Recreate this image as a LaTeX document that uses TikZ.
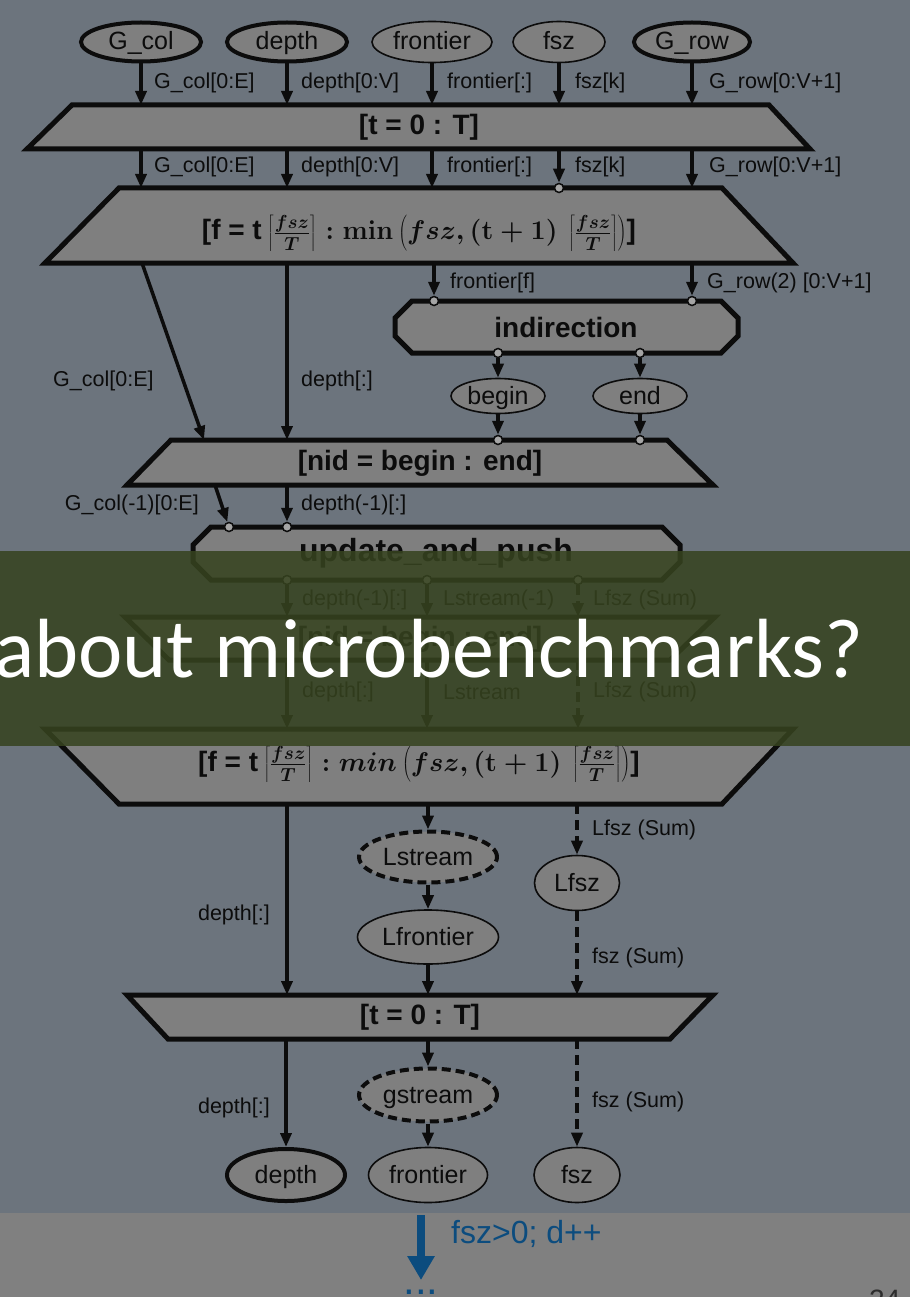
\RequirePackage{fix-cm}
\documentclass[tikz,border=0pt]{standalone}
\usepackage[no-math]{fontspec}
\setmainfont{Liberation Sans}
\newfontfamily\calib{Carlito}
\usetikzlibrary{arrows.meta,shapes.geometric}
\definecolor{bgc}{RGB}{108,116,125}
\definecolor{lowbg}{RGB}{128,128,128}
\definecolor{nfill}{RGB}{127,127,127}
\definecolor{pfill}{RGB}{165,165,165}
\definecolor{ink}{RGB}{12,12,12}
\definecolor{blu}{RGB}{12,76,126}
\definecolor{ban}{RGB}{54,67,31}
\definecolor{pgnum}{RGB}{45,45,45}
\newcommand{\strt}{\rule[-12pt]{0pt}{38pt}}
\newcommand{\ceilfrac}{\left\lceil\strt\frac{fsz}{T}\right\rceil}
\newcommand{\mth}[1]{{\fontsize{27}{32}\selectfont\boldmath$#1$}}
\newcommand{\formA}{\textbf{[f = t}\mth{\,\ceilfrac :\mathbf{min}\left(fsz,(\mathbf{t}+\mathbf{1})\,\ceilfrac\right)}\textbf{]}}
\newcommand{\formB}{\textbf{[f = t}\mth{\,\ceilfrac :min\left(fsz,(\mathbf{t}+\mathbf{1})\,\ceilfrac\right)}\textbf{]}}
\tikzset{
 lbl/.style={font=\fontsize{21.5}{24}\selectfont, text=ink, inner sep=0pt},
 ell/.style={ellipse, draw=ink, fill=nfill, line width=1.6pt, inner sep=0pt, text height=17pt, text depth=1pt, font=\fontsize{25}{28}\selectfont, text=ink},
 ellthick/.style={ell, line width=4pt},
 elldash/.style={ell, line width=4pt, dash pattern=on 9pt off 5pt},
 shp/.style={draw=ink, fill=nfill, line width=5pt, line join=miter},
 btxt/.style={font=\fontsize{28}{32}\selectfont\bfseries, text=ink, inner sep=0pt},
 ftxt/.style={font=\fontsize{28}{34}\selectfont, text=ink, inner sep=0pt},
 arr/.style={draw=ink, line width=3.5pt, -{Triangle[length=14pt,width=11pt]}},
 darr/.style={arr, dash pattern=on 10pt off 6pt},
 port/.style={circle, draw=ink, fill=pfill, line width=1.5pt, inner sep=0pt, minimum size=9pt},
}
\begin{document}
\begin{tikzpicture}[x=1pt,y=-1pt]
\useasboundingbox (0,0) rectangle (910,1297);
\clip (0,0) rectangle (910,1297);
\fill[bgc] (0,0) rectangle (910,1213);
\fill[lowbg] (0,1213) rectangle (910,1297);

% ---- top inputs
\node[ellthick, minimum width=120pt, minimum height=39pt] (Gcol) at (141,42) {G\_col};
\node[ellthick, minimum width=120pt, minimum height=39pt] (dep) at (287,42) {depth};
\node[ell, minimum width=120pt, minimum height=41pt] (fro) at (432,42) {frontier};
\node[ell, minimum width=92pt, minimum height=41pt] (fsz) at (559,42) {fsz};
\node[ellthick, minimum width=116pt, minimum height=39pt] (Grow) at (692,42) {G\_row};

% ---- T1
\draw[shp] (72,105) -- (769,105) -- (810,149) -- (27,149) -- cycle;
\node[btxt] (T1) at (419,127) {[t = 0 : T]};
\coordinate (T1n) at (419,105);
\coordinate (T1s) at (419,149);
\foreach \n in {Gcol,dep,fro,fsz,Grow} \draw[arr] (\n) -- (\n |- T1n);
\node[lbl, anchor=west] at (154,83) {G\_col[0:E]};
\node[lbl, anchor=west] at (301,83) {depth[0:V]};
\node[lbl, anchor=west] at (447,83) {frontier[:]};
\node[lbl, anchor=west] at (575,83) {fsz[k]};
\node[lbl, anchor=west] at (709,83) {G\_row[0:V+1]};

% ---- F1
\draw[shp] (119,188) -- (722,188) -- (793,263) -- (45,263) -- cycle;
\node[ftxt] (F1) at (419,233) {\formA};
\coordinate (F1n) at (419,188);
\coordinate (F1s) at (419,263);
\node[port] (pfsz) at (559,188) {};
\draw[arr] (Gcol |- T1s) -- (Gcol |- F1n);
\draw[arr] (dep |- T1s) -- (dep |- F1n);
\draw[arr] (fro |- T1s) -- (fro |- F1n);
\draw[arr] (fsz |- T1s) -- (pfsz.north);
\draw[arr] (Grow |- T1s) -- (Grow |- F1n);
\node[lbl, anchor=west] at (154,167) {G\_col[0:E]};
\node[lbl, anchor=west] at (301,167) {depth[0:V]};
\node[lbl, anchor=west] at (447,167) {frontier[:]};
\node[lbl, anchor=west] at (575,167) {fsz[k]};
\node[lbl, anchor=west] at (709,167) {G\_row[0:V+1]};

% ---- indirection
\draw[shp] (412,301) -- (721,301) -- (738,318) -- (738,336) -- (721,353) -- (412,353) -- (395,336) -- (395,318) -- cycle;
\node[btxt] (ind) at (566,327) {indirection};
\node[port] (pf) at (434,301) {};
\node[port] (pg) at (692,301) {};
\draw[arr] (pf |- F1s) -- (pf.north);
\draw[arr] (pg |- F1s) -- (pg.north);
\node[lbl, anchor=west] at (450,283) {frontier[f]};
\node[lbl, anchor=west] at (707,283) {G\_row(2) [0:V+1]};
\node[port] (pb) at (498,353) {};
\node[port] (pe) at (640,353) {};
\node[ell, minimum width=94pt, minimum height=35pt] (beg) at (498,396) {begin};
\node[ell, minimum width=94pt, minimum height=35pt] (endn) at (640,396) {end};
\draw[arr] (pb) -- (beg);
\draw[arr] (pe) -- (endn);

% ---- N1
\draw[shp] (171,440) -- (667,440) -- (713,485) -- (127,485) -- cycle;
\node[btxt] (N1) at (420,463) {[nid = begin : end]};
\coordinate (N1n) at (420,440);
\coordinate (N1s) at (420,485);
\node[port] (pnb) at (498,440) {};
\node[port] (pne) at (640,440) {};
\draw[arr] (beg) -- (pnb.north);
\draw[arr] (endn) -- (pne.north);
\coordinate (gcs) at (142,263);
\coordinate (gce) at (204,440);
\draw[arr] (gcs) -- (gce);
\draw[arr] (dep |- F1s) -- (dep |- N1n);
\node[lbl, anchor=west] at (53,381) {G\_col[0:E]};
\node[lbl, anchor=west] at (301,381) {depth[:]};

% ---- update_and_push
\draw[shp] (211,527) -- (662,527) -- (680,545) -- (680,562) -- (662,580) -- (211,580) -- (193,562) -- (193,545) -- cycle;
\node[btxt, font=\fontsize{32}{36}\selectfont\bfseries] (U) at (436,553) {update\_and\_push};
\node[port] (pgc) at (229,527) {};
\node[port] (pd) at (287,527) {};
\coordinate (gc2s) at (215,485);
\draw[arr] (gc2s) -- (pgc);
\draw[arr] (pd |- N1s) -- (pd.north);
\node[lbl, anchor=east] at (199,505) {G\_col(-1)[0:E]};
\node[lbl, anchor=west] at (301,505) {depth(-1)[:]};
\node[port] (pu1) at (287,580) {};
\node[port] (pu2) at (427,580) {};
\node[port] (pu3) at (578,580) {};

% ---- N2
\draw[shp] (125,617) -- (715,617) -- (670,660) -- (169,660) -- cycle;
\node[btxt] (N2) at (420,639) {[nid = begin : end]};
\coordinate (N2n) at (420,617);
\coordinate (N2s) at (420,660);
\draw[arr] (pu1) -- (pu1 |- N2n);
\draw[arr] (pu2) -- (pu2 |- N2n);
\draw[darr] (pu3) -- (pu3 |- N2n);
\node[lbl, anchor=west] at (302,600) {depth(-1)[:]};
\node[lbl, anchor=west] at (443,600) {Lstream(-1)};
\node[lbl, anchor=west] at (593,600) {Lfsz (Sum)};

% ---- F2
\draw[shp] (45,729) -- (793,729) -- (722,804) -- (119,804) -- cycle;
\node[ftxt] (F2) at (419,764) {\formB};
\coordinate (F2n) at (419,729);
\coordinate (F2s) at (419,804);
\draw[arr] (pu1 |- N2s) -- (pu1 |- F2n);
\draw[arr] (pu2 |- N2s) -- (pu2 |- F2n);
\draw[darr] (pu3 |- N2s) -- (pu3 |- F2n);
\node[lbl, anchor=west] at (302,692) {depth[:]};
\node[lbl, anchor=west] at (443,692) {Lstream};
\node[lbl, anchor=west] at (593,692) {Lfsz (Sum)};

% ---- middle streams
\node[elldash, minimum width=138pt, minimum height=51pt] (ls) at (428,857) {Lstream};
\node[ell, minimum width=141pt, minimum height=54pt] (lfr) at (428,937) {Lfrontier};
\node[ell, minimum width=85pt, minimum height=55pt] (lfz) at (577,883) {Lfsz};

% ---- T2
\draw[shp] (127,995) -- (713,995) -- (670,1039) -- (168,1039) -- cycle;
\node[btxt] (T2) at (420,1017) {[t = 0 : T]};
\coordinate (T2n) at (420,995);
\coordinate (T2s) at (420,1039);
\draw[arr] (pu1 |- F2s) -- (pu1 |- T2n);
\draw[arr] (ls |- F2s) -- (ls);
\draw[arr] (ls) -- (lfr);
\draw[arr] (lfr) -- (lfr |- T2n);
\draw[darr] (lfz |- F2s) -- (lfz);
\draw[darr] (lfz) -- (lfz |- T2n);
\node[lbl, anchor=east] at (270,915) {depth[:]};
\node[lbl, anchor=west] at (592,830) {Lfsz (Sum)};
\node[lbl, anchor=west] at (592,958) {fsz (Sum)};

% ---- outputs
\node[elldash, minimum width=138pt, minimum height=53pt] (gs) at (428,1095) {gstream};
\node[ellthick, minimum width=118pt, minimum height=52pt] (dB) at (286,1175) {depth};
\node[ell, minimum width=119pt, minimum height=55pt] (frB) at (428,1175) {frontier};
\node[ell, minimum width=86pt, minimum height=55pt] (fzB) at (577,1175) {fsz};
\draw[arr] (dB |- T2s) -- (dB);
\draw[arr] (gs |- T2s) -- (gs);
\draw[arr] (gs) -- (frB);
\draw[darr] (fzB |- T2s) -- (fzB);
\node[lbl, anchor=east] at (270,1108) {depth[:]};
\node[lbl, anchor=west] at (592,1102) {fsz (Sum)};

% ---- bottom of slide
\coordinate (ba1) at (421,1215);
\coordinate (ba2) at (421,1280);
\draw[blu, line width=8pt, -{Triangle[length=24pt,width=26pt]}] (ba1) -- (ba2);
\node[anchor=west, text=blu, inner sep=0pt, font=\fontsize{32}{36}\selectfont] (cond) at (451,1234) {fsz>0; d++};
\node[anchor=base, text=blu, inner sep=0pt, font=\fontsize{42}{44}\selectfont] (dots) at (421,1294) {...};
\node[anchor=base west, text=pgnum, inner sep=0pt, font=\fontsize{28}{30}\selectfont] (pgn) at (869,1309) {24};

% ---- banner
\fill[ban, fill opacity=0.86] (0,551) rectangle (910,746);
\node[anchor=base east, text=white, inner sep=0pt, font=\calib\fontsize{84}{90}\selectfont] (title) at (864,677) {about microbenchmarks?};
\end{tikzpicture}
\end{document}
